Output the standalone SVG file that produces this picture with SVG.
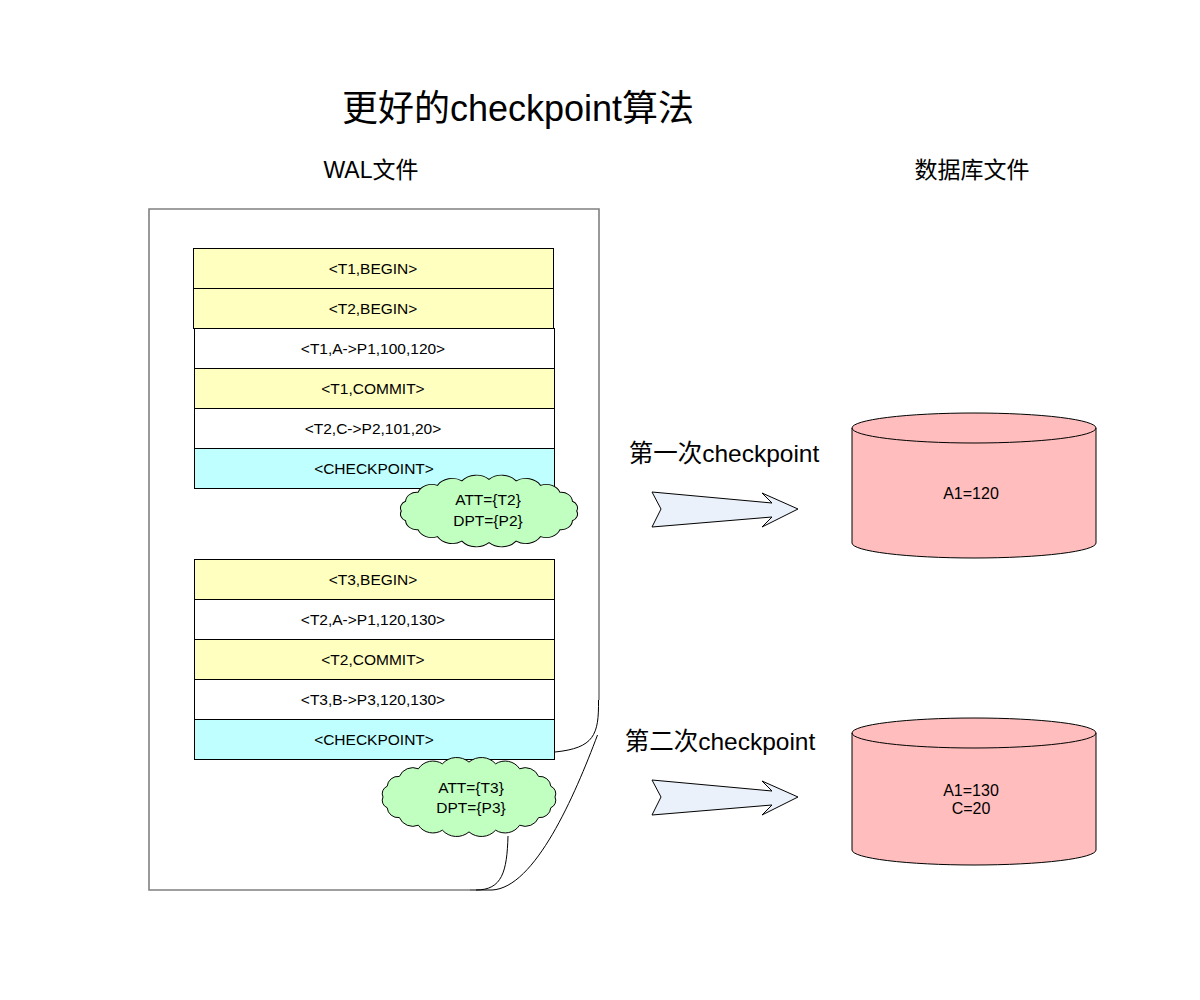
<svg xmlns="http://www.w3.org/2000/svg" xmlns:xlink="http://www.w3.org/1999/xlink" width="1200" height="1000" viewBox="0 0 1200 1000">
<style>
text{font-family:"Liberation Sans","Noto Sans CJK SC",sans-serif;fill:#000;text-anchor:middle}
.row{stroke:#000;stroke-width:1}
.y{fill:#ffffc0}
.w{fill:#ffffff}
.c{fill:#c0ffff}
.rt{font-size:15.5px}
.cloud{fill:#c0ffc0;stroke:#000;stroke-width:1}
.arrow{fill:#eaf1fa;stroke:#000;stroke-width:1}
.cyl{fill:#ffbdbd;stroke:#000;stroke-width:1}
.curl{fill:none;stroke:#000;stroke-width:1}
.lbl{font-size:24.5px}
.hdr{font-size:23px}
</style>
<defs>
<path id="cloudShape" d="M86,0 A8.3 8.3 0 0 1 81.8,11.1 A11 11 0 0 1 69.6,21.2 A14.4 14.4 0 0 1 50.6,29.1 A17.2 17.2 0 0 1 26.6,34.2 A18.7 18.7 0 0 1 0,36 A18.7 18.7 0 0 1 -26.6,34.2 A17.2 17.2 0 0 1 -50.6,29.1 A14.4 14.4 0 0 1 -69.6,21.2 A11 11 0 0 1 -81.8,11.1 A8.3 8.3 0 0 1 -86,0 A8.3 8.3 0 0 1 -81.8,-11.1 A11 11 0 0 1 -69.6,-21.2 A14.4 14.4 0 0 1 -50.6,-29.1 A17.2 17.2 0 0 1 -26.6,-34.2 A18.7 18.7 0 0 1 0,-36 A18.7 18.7 0 0 1 26.6,-34.2 A17.2 17.2 0 0 1 50.6,-29.1 A14.4 14.4 0 0 1 69.6,-21.2 A11 11 0 0 1 81.8,-11.1 A8.3 8.3 0 0 1 86,0 Z"/>
<polygon id="blockArrow" points="652,492 772,503 762,493 798,509 762,527 772,517 652,527 661,509"/>
</defs>

<text x="518" y="121" style="font-size:36px">更好的checkpoint算法</text>
<text x="371" y="178" class="hdr">WAL文件</text>
<text x="972" y="178" class="hdr">数据库文件</text>

<g id="wal-document">
<path d="M470,890 L149,890 L149,209 L599,209 L599,700" fill="none" stroke="#808080" stroke-width="1.6"/>
</g>

<g id="log-group-1">
<g id="row-t1-begin"><rect class="row y" x="193.5" y="248.5" width="360" height="40"/><text class="rt" x="373" y="274">&lt;T1,BEGIN&gt;</text></g>
<g id="row-t2-begin"><rect class="row y" x="193.5" y="288.5" width="360" height="40"/><text class="rt" x="373" y="314">&lt;T2,BEGIN&gt;</text></g>
<g id="row-t1-a"><rect class="row w" x="194.5" y="328.5" width="360" height="40"/><text class="rt" x="373" y="354">&lt;T1,A-&gt;P1,100,120&gt;</text></g>
<g id="row-t1-commit"><rect class="row y" x="194.5" y="368.5" width="360" height="40"/><text class="rt" x="373" y="394">&lt;T1,COMMIT&gt;</text></g>
<g id="row-t2-c"><rect class="row w" x="194.5" y="408.5" width="360" height="40"/><text class="rt" x="373" y="434">&lt;T2,C-&gt;P2,101,20&gt;</text></g>
<g id="row-checkpoint-1"><rect class="row c" x="194.5" y="448.5" width="360" height="40"/><text class="rt" x="374" y="474">&lt;CHECKPOINT&gt;</text></g>
</g>

<g id="log-group-2">
<g id="row-t3-begin"><rect class="row y" x="194.5" y="559.5" width="360" height="40"/><text class="rt" x="373" y="585">&lt;T3,BEGIN&gt;</text></g>
<g id="row-t2-a"><rect class="row w" x="194.5" y="599.5" width="360" height="40"/><text class="rt" x="373" y="625">&lt;T2,A-&gt;P1,120,130&gt;</text></g>
<g id="row-t2-commit"><rect class="row y" x="194.5" y="639.5" width="360" height="40"/><text class="rt" x="373" y="665">&lt;T2,COMMIT&gt;</text></g>
<g id="row-t3-b"><rect class="row w" x="194.5" y="679.5" width="360" height="40"/><text class="rt" x="373" y="705">&lt;T3,B-&gt;P3,120,130&gt;</text></g>
<g id="row-checkpoint-2"><rect class="row c" x="194.5" y="719.5" width="360" height="40"/><text class="rt" x="374" y="745">&lt;CHECKPOINT&gt;</text></g>
</g>

<g id="cloud-1">
<use xlink:href="#cloudShape" class="cloud" transform="translate(489,511) scale(1.02,0.88)" style="vector-effect:non-scaling-stroke"/>
<text class="rt" x="488" y="505">ATT={T2}</text>
<text class="rt" x="488" y="526">DPT={P2}</text>
</g>

<g id="cloud-2">
<use xlink:href="#cloudShape" class="cloud" transform="translate(469,797) scale(1.0,0.97)" style="vector-effect:non-scaling-stroke"/>
<text class="rt" x="471" y="792.5">ATT={T3}</text>
<text class="rt" x="471" y="812.5">DPT={P3}</text>
</g>

<g id="connectors">
<path class="curl" d="M598.5,700 C599,735 594,748 555,752"/>
<path class="curl" d="M597.5,735 C575,795 535,888 492,890 L470,890"/>
<path class="curl" d="M508,836 C507,872 502,890 476,890"/>
</g>

<g id="arrow-1"><use xlink:href="#blockArrow" class="arrow"/></g>
<g id="arrow-2"><use xlink:href="#blockArrow" class="arrow" transform="translate(0,288)"/></g>

<text x="724" y="462" class="lbl">第一次checkpoint</text>
<text x="720" y="750" class="lbl">第二次checkpoint</text>

<g id="db-1">
<path class="cyl" d="M852,428 L852,543 A122,15 0 0 0 1096,543 L1096,428 A122,15 0 0 0 852,428 Z"/>
<path class="curl" d="M852,428 A122,15 0 0 0 1096,428"/>
<text class="rt" x="971" y="499" style="font-size:16px">A1=120</text>
</g>

<g id="db-2">
<path class="cyl" d="M852,733 L852,850 A122,15 0 0 0 1096,850 L1096,733 A122,15 0 0 0 852,733 Z"/>
<path class="curl" d="M852,733 A122,15 0 0 0 1096,733"/>
<text class="rt" x="971" y="796" style="font-size:16px">A1=130</text>
<text class="rt" x="971" y="814" style="font-size:16px">C=20</text>
</g>
</svg>
